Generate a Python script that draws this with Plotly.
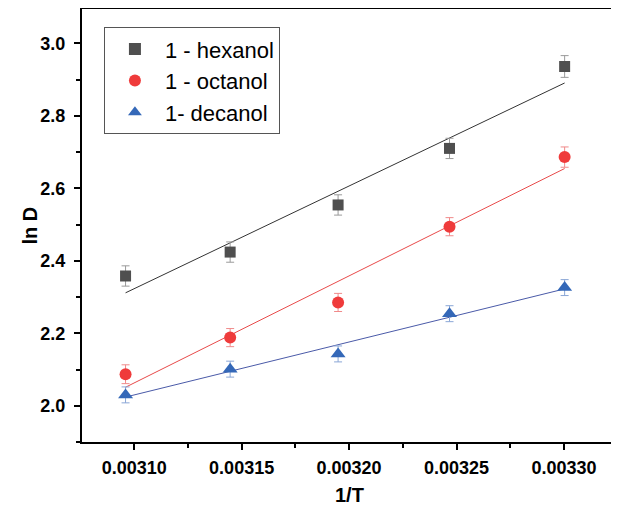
import numpy as np
import plotly.graph_objects as go

temps = [323, 318, 313, 308, 303]
inv_T = [1.0 / t for t in temps]

series_names = ["1 - hexanol", "1 - octanol", "1- decanol"]
hexanol = [2.358, 2.424, 2.554, 2.710, 2.936]
octanol = [2.087, 2.188, 2.285, 2.494, 2.686]
decanol = [2.030, 2.101, 2.143, 2.254, 2.326]
hexanol_err = [0.028, 0.028, 0.028, 0.028, 0.030]
octanol_err = [0.026, 0.025, 0.025, 0.025, 0.028]
decanol_err = [0.022, 0.022, 0.022, 0.022, 0.022]

x_ticks = [0.00310, 0.00315, 0.00320, 0.00325, 0.00330]
y_ticks = [2.0, 2.2, 2.4, 2.6, 2.8, 3.0]

styles = [
    dict(color="#4f4f4f", err="#9a9a9a", symbol="square", size=11, line="#333333"),
    dict(color="#ef3b3b", err="#f08a8a", symbol="circle", size=12, line="#e84a4a"),
    dict(color="#3468b8", err="#8aa6d6", symbol="triangle-up", size=13, line="#4a5aa8"),
]

fig = go.Figure()
for name, ys, errs, st in zip(series_names, [hexanol, octanol, decanol],
                              [hexanol_err, octanol_err, decanol_err], styles):
    slope, icpt = np.polyfit(inv_T, ys, 1)
    xf = [min(inv_T), max(inv_T)]
    fig.add_trace(go.Scatter(
        x=xf, y=[slope * v + icpt for v in xf], mode="lines",
        line=dict(color=st["line"], width=1), showlegend=False, hoverinfo="skip"))
for name, ys, errs, st in zip(series_names, [hexanol, octanol, decanol],
                              [hexanol_err, octanol_err, decanol_err], styles):
    fig.add_trace(go.Scatter(
        x=inv_T, y=ys, mode="markers", name=name,
        marker=dict(color=st["color"], symbol=st["symbol"], size=st["size"]),
        error_y=dict(type="data", array=errs, visible=True, color=st["err"],
                     thickness=1, width=4)))

FONT = "Arial, Liberation Sans, sans-serif"
axis_font = dict(family=FONT, size=18, color="black")
fig.update_layout(
    width=611, height=501,
    margin=dict(l=74, r=2, t=1, b=67, autoexpand=False),
    paper_bgcolor="white", plot_bgcolor="white",
    font=dict(family=FONT, color="black"),
    legend=dict(x=0.041, y=0.958, xanchor="left", yanchor="top",
                bordercolor="#555555", borderwidth=1, bgcolor="white",
                font=dict(size=22, family=FONT), itemwidth=50,
                tracegroupgap=0, itemsizing="constant"),
    xaxis=dict(range=[0.0030757, 0.0033247], tickvals=x_ticks,
               ticktext=[f"<b>{v:.5f}</b>" for v in x_ticks], automargin=False,
               showgrid=False, zeroline=False, showline=True, linecolor="black",
               linewidth=2, mirror=True, ticks="outside", ticklen=6, tickwidth=2,
               tickcolor="black", tickfont=axis_font, ticklabelstandoff=2,
               minor=dict(ticks="outside", ticklen=4, tickwidth=1.5, tickcolor="black",
                          dtick=0.000025, tick0=0.003075, showgrid=False)),
    yaxis=dict(range=[1.90, 3.0946], tickvals=y_ticks,
               ticktext=[f"<b>{v:.1f}</b>" for v in y_ticks], automargin=False,
               showgrid=False, zeroline=False, showline=True, linecolor="black",
               linewidth=2, mirror=True, ticks="outside", ticklen=6, tickwidth=2,
               tickcolor="black", tickfont=axis_font, ticklabelstandoff=5,
               minor=dict(ticks="outside", ticklen=4, tickwidth=1.5, tickcolor="black",
                          dtick=0.1, tick0=1.9, showgrid=False)),
    annotations=[
        dict(text="<b>1/T</b>", xref="paper", yref="paper", x=0.5, y=-0.1224,
             xanchor="center", yanchor="middle", showarrow=False,
             font=dict(size=20, family=FONT, color="black")),
        dict(text="<b>ln D</b>", xref="paper", yref="paper", x=-0.099, y=0.5,
             xanchor="center", yanchor="middle", showarrow=False, textangle=-90,
             font=dict(size=20, family=FONT, color="black")),
    ],
)
fig.write_html("out.html")
